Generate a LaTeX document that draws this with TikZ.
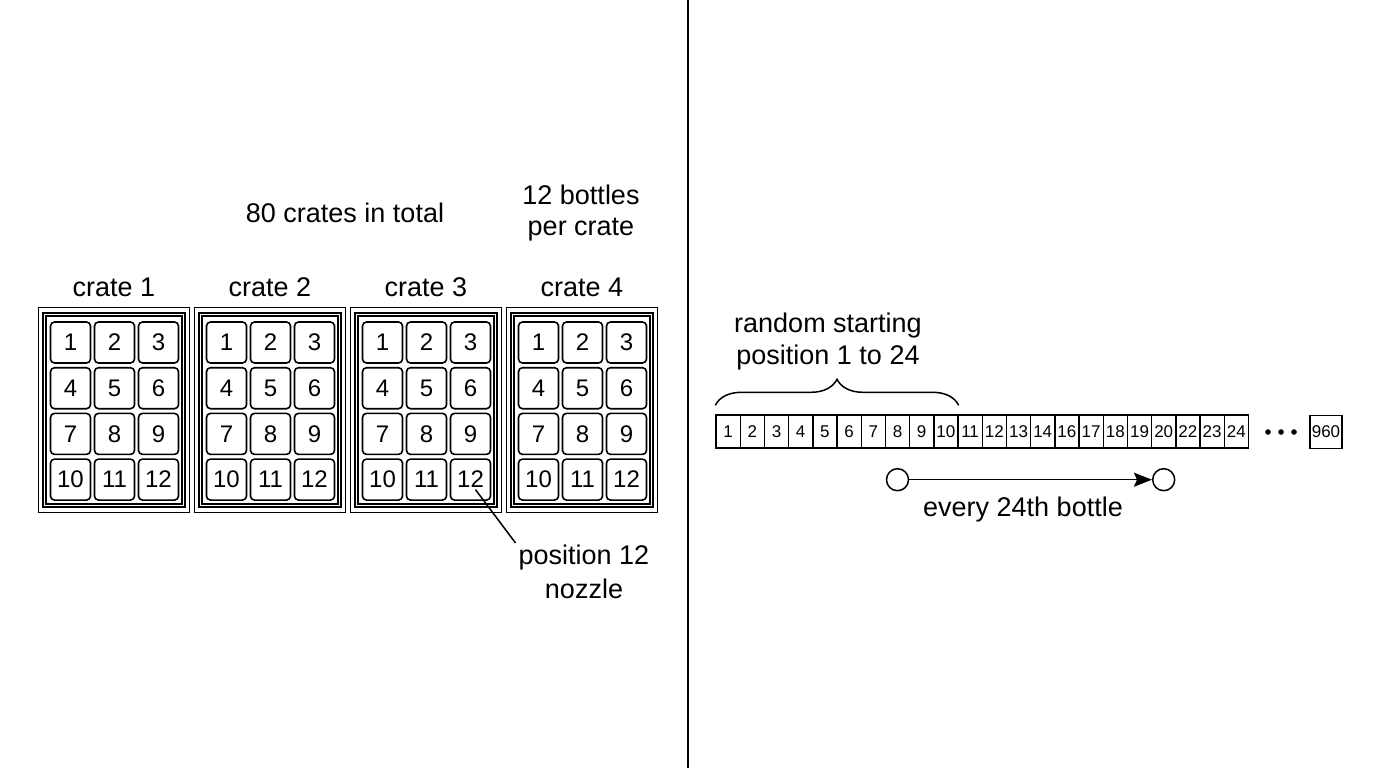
\documentclass[tikz,border=0pt]{standalone}
\usepackage{fontspec}
\setmainfont{Liberation Sans}
\usepackage{tikz}
\usetikzlibrary{arrows.meta, decorations.pathreplacing}

\tikzset{
    crate/.style={draw, line width=1.6pt, minimum width=151pt, minimum height=205pt, inner sep=0pt},
    tray/.style={draw, double, line width=1.2pt, double distance=1.8pt, minimum width=139pt, minimum height=191pt, inner sep=0pt},
    bottle/.style={draw, line width=1.6pt, rounded corners=4pt, minimum width=40pt, minimum height=41pt, inner sep=0pt, font=\fontsize{24}{28}\selectfont},
    slot/.style={draw, line width=1.4pt, minimum width=24.2pt, minimum height=33pt, inner sep=0pt, font=\fontsize{17}{20}\selectfont},
    lbl/.style={inner sep=0pt, align=center, font=\fontsize{27}{31}\selectfont},
    ring/.style={draw, circle, line width=1.5pt, minimum size=22pt, inner sep=0pt},
}

\begin{document}
\begin{tikzpicture}[x=1pt, y=-1pt]
    \useasboundingbox (0,0) rectangle (1376,768);

    % Left half: the crates
    \foreach \k in {1,...,4} {
        \begin{scope}[xshift={156*(\k-1)}]
            \node[crate] (crate\k) at (114,410) {};
            \node[tray] (tray\k) at (114,410) {};
            \foreach \r in {0,...,3} {
                \foreach \c in {0,...,2} {
                    \pgfmathtruncatemacro{\n}{3*\r+\c+1}
                    \node[bottle] (c\k-\n) at (70.5+44*\c, 342.5+45.7*\r) {\n};
                }
            }
            \node[lbl, anchor=base] (name\k) at (114,296) {crate \k};
        \end{scope}
    }
    \node[lbl, anchor=base] (total) at (345,222) {80 crates in total};
    \node[lbl, anchor=north] (percrate) at (581,185) {12 bottles\\per crate};

    % Nozzle at position 12
    \node[lbl, anchor=north, font=\fontsize{27}{34}\selectfont] (nozzle) at (584,545) {position 12\\nozzle};
    \draw[line width=1.5pt] ([shift={(5,10)}]c3-12.center) -- ([shift={(-3,-2)}]nozzle.north west);

    % Divider
    \draw[line width=2pt] (688,0) -- (688,768);

    % Right half: the bottles in a row
    \foreach \n [count=\i from 0] in {1,...,14,16,17,18,19,20,22,23,24}
        \node[slot] (s\n) at (728.1+24.2*\i, 431.5) {\n};
    \foreach \x in {1268,1281,1294}
        \fill (\x,432) circle (2.8pt);
    \node[slot, minimum width=32pt] (s960) at (1326,432) {960};

    % Random start
    \draw[line width=1.5pt, decorate, decoration={brace, amplitude=26pt}]
        ([yshift=9pt]s1.north west) -- ([yshift=9pt]s10.north east);
    \node[lbl, anchor=north, font=\fontsize{27}{32}\selectfont] (start) at (828,313) {random starting\\position 1 to 24};

    % Every 24th bottle
    \node[ring] (first) at ([yshift=-31pt]s8.south) {};
    \node[ring] (next) at ([yshift=-31pt]s20.south) {};
    \draw[line width=1.5pt, -{Stealth[length=18pt, width=14pt, inset=3pt]}] (first) -- (next);
    \node[lbl, anchor=base] (step24) at (1023,516) {every 24th bottle};
\end{tikzpicture}
\end{document}
